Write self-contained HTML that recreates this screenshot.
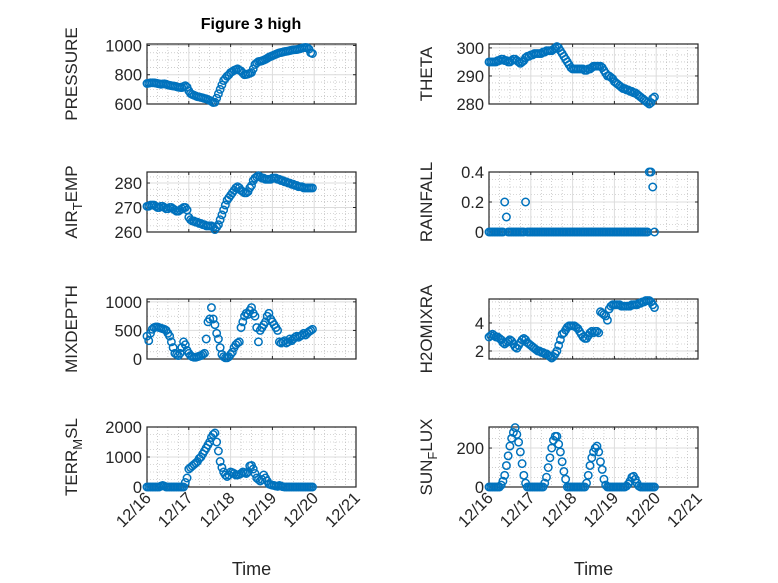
<!DOCTYPE html>
<html><head><meta charset="utf-8"><style>
html,body{margin:0;padding:0;background:#fff;}
svg{display:block;font-family:"Liberation Sans",sans-serif;}
</style></head><body>
<svg id="fig" width="778" height="583" viewBox="0 0 778 583" xmlns="http://www.w3.org/2000/svg">
<rect width="778" height="583" fill="#fff"/>
<text x="251" y="29" text-anchor="middle" font-size="16" font-weight="bold" fill="#000">Figure 3 high</text>
</svg>
<script>
const dayTicks = ["12/16","12/17","12/18","12/19","12/20","12/21"];
const pressure = [740,742,745,745,745,743,740,738,735,737,738,735,730,728,725,723,722,718,715,713,712,720,725,715,
 690,672,665,660,655,650,648,645,642,638,635,630,625,618,610,612,640,670,700,730,760,775,790,800,
 815,822,830,835,840,832,825,812,800,802,805,810,815,840,870,880,890,892,895,900,905,912,920,925,
 930,935,940,945,950,952,955,958,960,962,965,968,970,971,972,975,978,982,985,986,985,975,950,945];
const theta = [295,295,295,295,295,295.5,295.5,296,296,295.5,295.5,295,295,295.5,296,296,295.5,295,294.5,295,295.5,296.5,297,297,
 297.5,297.5,298,298,298,298,298,298.5,298.5,299,299,299,299,299.5,300,300.5,300,299,298,297,296,295,294,293,
 292.5,292.5,292.5,292.5,292.5,292.5,292.5,292,292,292.5,292.5,293,293.5,293.5,293.5,293.5,293.5,293,292,291,290,290,289.5,289,
 288,287.5,287,286.5,286,285.5,285.5,285,285,284.5,284.5,284,284,283.5,283,282.5,282,281.5,281,280.5,280,280.5,282,282.5];
const airTemp = [270.5,270.5,271,271,271,270.5,270,270,270.5,270.5,270,269.5,269.5,270,270,269.5,269,268.5,268.5,269,269.5,270,270,269,
 266,265,264.5,264.5,264,264,263.5,263.5,263,263,262.5,262.5,262.5,262.5,262,261,262,263,265,267,269,271,273,274,
 275,276,277,278,278.5,278,277,276.5,276,276,276.5,278,279,281,282,282.5,283,282.5,282,282,281.5,281.5,281.5,281.5,
 282,282,282,281.5,281.5,281,281,280.5,280.5,280,280,279.5,279.5,279,279,278.5,278.5,278.5,278,278,278,278,278,278];
const rainfall = [0,0,0,0,0,0,0,0,0,0.2,0.1,0,0,0,0,0,0,0,0,0,0,0.2,0,0,
 0,0,0,0,0,0,0,0,0,0,0,0,0,0,0,0,0,0,0,0,0,0,0,0,
 0,0,0,0,0,0,0,0,0,0,0,0,0,0,0,0,0,0,0,0,0,0,0,0,
 0,0,0,0,0,0,0,0,0,0,0,0,0,0,0,0,0,0,0,0,0.4,0.4,0.3,0];
const mixDepth = [400,320,450,520,550,560,560,550,540,530,520,500,450,400,300,200,100,80,60,100,200,300,250,150,
 100,60,40,30,30,40,50,60,80,100,350,650,700,900,700,600,450,350,200,80,40,20,20,40,
 80,120,200,250,280,300,550,650,750,800,780,850,900,800,750,550,300,500,550,600,650,750,800,700,
 650,600,550,500,300,280,300,320,280,300,350,320,350,380,400,380,400,420,450,420,450,480,500,520];
const h2oMix = [3.0,3.1,3.2,3.1,3.0,3.0,2.9,2.8,2.6,2.5,2.6,2.7,2.8,2.7,2.5,2.3,2.2,2.4,2.6,2.8,2.9,2.8,2.6,2.5,
 2.4,2.3,2.2,2.1,2.0,2.0,1.9,1.9,1.8,1.8,1.7,1.6,1.5,1.6,1.8,2.0,2.4,2.8,3.2,3.3,3.5,3.7,3.8,3.8,
 3.8,3.8,3.7,3.6,3.4,3.2,3.0,2.9,2.9,3.1,3.3,3.4,3.3,3.4,3.4,3.3,4.8,4.7,4.6,4.5,4.2,5.0,5.2,5.3,
 5.3,5.3,5.3,5.3,5.2,5.2,5.2,5.2,5.2,5.2,5.3,5.3,5.3,5.3,5.4,5.4,5.5,5.5,5.6,5.6,5.6,5.5,5.3,5.1];
const terrMsl = [0,0,0,0,0,0,0,0,30,50,30,0,0,0,0,0,0,0,0,0,0,0,150,300,
 600,650,700,750,800,850,950,1000,1100,1200,1300,1400,1500,1650,1750,1800,1500,1200,850,650,500,400,350,400,
 500,480,450,400,400,420,450,500,480,450,500,700,720,600,450,300,250,200,250,400,300,200,100,80,
 60,50,30,20,50,30,10,0,0,0,0,0,0,0,0,0,0,0,0,0,0,0,0,0];
const sunFlux = [0,0,0,0,0,0,0,10,30,60,110,160,210,250,280,305,270,230,180,120,60,20,0,0,
 0,0,0,0,0,0,0,0,20,50,100,150,200,240,260,260,220,180,130,80,40,0,0,0,
 0,0,0,0,0,0,0,0,20,60,110,150,180,200,210,180,130,90,40,10,0,0,0,0,
 0,0,0,0,0,0,0,5,15,30,50,55,40,20,5,0,0,0,0,0,0,0,0,0];
const hoursStep = 1;

const NS="http://www.w3.org/2000/svg";
const svg=document.getElementById('fig');
function mk(tag,attrs,parent){const e=document.createElementNS(NS,tag);for(const k in attrs)e.setAttribute(k,attrs[k]);(parent||svg).appendChild(e);return e;}

const panels=[
 {key:'pressure',data:pressure,x0:147,y0:44,lab:['PRESSURE'],ymin:600,ymax:1010,ticks:[600,800,1000],minor:50},
 {key:'theta',data:theta,x0:489,y0:44,lab:['THETA'],ymin:280,ymax:301.4,ticks:[280,290,300],minor:2.5},
 {key:'air-temp',data:airTemp,x0:147,y0:172,lab:['AIR','T','EMP'],ymin:260,ymax:284.5,ticks:[260,270,280],minor:2.5},
 {key:'rainfall',data:rainfall,x0:489,y0:172,lab:['RAINFALL'],ymin:0,ymax:0.4,ticks:[0,0.2,0.4],minor:0.05},
 {key:'mixdepth',data:mixDepth,x0:147,y0:299,lab:['MIXDEPTH'],ymin:0,ymax:1050,ticks:[0,500,1000],minor:125},
 {key:'h2o-mix',data:h2oMix,x0:489,y0:299,lab:['H2OMIXRA'],ymin:1.43,ymax:5.71,ticks:[2,4],minor:0.5},
 {key:'terr-msl',data:terrMsl,x0:147,y0:427,lab:['TERR','M','SL'],ymin:0,ymax:2000,ticks:[0,1000,2000],minor:250},
 {key:'sun-flux',data:sunFlux,x0:489,y0:427,lab:['SUN','F','LUX'],ymin:0,ymax:308,ticks:[0,200],minor:50}
];
const W=209,H=60,days=5;
panels.forEach((p,pi)=>{
 const g=mk('g',{});
 
 
 const xs=d=>p.x0+d/days*W;
 const ys=v=>p.y0+H-(v-p.ymin)/(p.ymax-p.ymin)*H;
 for(let d=0.25;d<days;d+=0.25){ if(Math.abs(d-Math.round(d))<1e-6)continue;
   mk('line',{x1:xs(d),x2:xs(d),y1:p.y0,y2:p.y0+H,stroke:'#b0b0b0','stroke-width':0.6,'stroke-dasharray':'1 2'},g);}
 for(let v=Math.ceil(p.ymin/p.minor)*p.minor;v<=p.ymax+1e-9;v+=p.minor){ if(p.ticks.some(t=>Math.abs(t-v)<1e-9))continue;
   mk('line',{x1:p.x0,x2:p.x0+W,y1:ys(v),y2:ys(v),stroke:'#b0b0b0','stroke-width':0.6,'stroke-dasharray':'1 2'},g);}
 for(let d=1;d<days;d++) mk('line',{x1:xs(d),x2:xs(d),y1:p.y0,y2:p.y0+H,stroke:'#dcdcdc','stroke-width':1},g);
 p.ticks.forEach(t=>{ mk('line',{x1:p.x0,x2:p.x0+W,y1:ys(t),y2:ys(t),stroke:'#dcdcdc','stroke-width':1},g);
   mk('line',{x1:p.x0,x2:p.x0+3,y1:ys(t),y2:ys(t),stroke:'#262626','stroke-width':1},g);
   mk('line',{x1:p.x0+W-3,x2:p.x0+W,y1:ys(t),y2:ys(t),stroke:'#262626','stroke-width':1},g);
   const tl=mk('text',{x:p.x0-5,y:ys(t)+6,'text-anchor':'end','font-size':16.5,fill:'#262626'},g);
   tl.textContent=String(t);
   
   
 });
 for(let d=0;d<=days;d++){ mk('line',{x1:xs(d),x2:xs(d),y1:p.y0+H,y2:p.y0+H-3,stroke:'#262626'},g);
   mk('line',{x1:xs(d),x2:xs(d),y1:p.y0,y2:p.y0+3,stroke:'#262626'},g);}
 mk('rect',{x:p.x0,y:p.y0,width:W,height:H,fill:'none',stroke:'#262626','stroke-width':1.2},g);
 p.data.forEach((v,i)=>{
   const c=mk('circle',{cx:xs(i*hoursStep/24),cy:ys(v),r:3.7,fill:'none',stroke:'#0072BD','stroke-width':1.5},g);
   
   
 });
 const lx=p.x0-(pi%2?57:70), ly=p.y0+H/2;
 const yl=mk('text',{x:lx,y:ly,'text-anchor':'middle','font-size':17,fill:'#262626',transform:`rotate(-90 ${lx} ${ly})`},g);
 
 
 if(p.lab.length===1) yl.textContent=p.lab[0];
 else { const a=mk('tspan',{},yl);a.textContent=p.lab[0];
   const b=mk('tspan',{'font-size':13,dy:5},yl);b.textContent=p.lab[1];
   const c2=mk('tspan',{dy:-5},yl);c2.textContent=p.lab[2]; }
 if(pi>=6){
   dayTicks.forEach((lab,d)=>{
     const tx=xs(d)+5, ty=p.y0+H+12;
     const t=mk('text',{x:tx,y:ty,'text-anchor':'end','font-size':16.5,fill:'#262626',transform:`rotate(-45 ${tx} ${ty})`},g);
     t.textContent=lab;
     
     
   });
   const xt=mk('text',{x:p.x0+W/2,y:575,'text-anchor':'middle','font-size':18,fill:'#262626'},g);
   xt.textContent='Time';
   
   
 }
});
</script>
</body></html>
